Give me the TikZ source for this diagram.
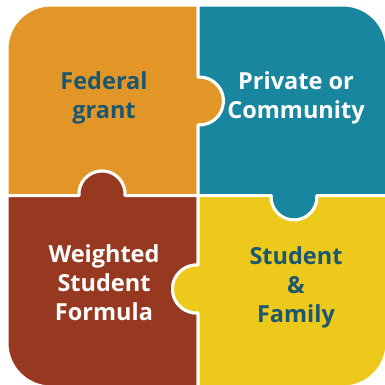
\documentclass[tikz,border=0pt]{standalone}
\usepackage{fontspec}
\setmainfont{Open Sans}
\definecolor{cOrange}{RGB}{226,150,40}
\definecolor{cTeal}{RGB}{24,134,158}
\definecolor{cBrown}{RGB}{151,56,32}
\definecolor{cYellow}{RGB}{236,201,27}
\definecolor{cText}{RGB}{27,88,112}
\tikzset{
  piece/.style={fill=#1, draw=white, line width=3bp, line join=round},
  lbl/.style={align=center, anchor=base, inner sep=0pt, font=\fontsize{23.5bp}{29bp}\selectfont\bfseries, text=#1}
}
\begin{document}
\begin{tikzpicture}[x=1bp,y=-1bp]
\useasboundingbox (0,0) rectangle (385,385);
\clip (0,0) rectangle (385,385);
% top-left
\path[piece=cOrange] (7,49) arc[start angle=180,end angle=270,radius=44] -- (198,5) -- (198,77.05)
  arc[start angle=-93.6,end angle=93.6,radius=24] -- (198,195.5) -- (124.95,195.5)
  arc[start angle=3.7,end angle=-183.7,radius=23] -- (7,195.5) -- cycle;
% top-right
\path[piece=cTeal] (198,5) -- (343,5) arc[start angle=270,end angle=360,radius=44] -- (387,195.5) -- (316.95,195.5)
  arc[start angle=-3.7,end angle=183.7,radius=23] -- (198,195.5) -- (198,124.95)
  arc[start angle=93.6,end angle=-93.6,radius=24] -- cycle;
% bottom-left
\path[piece=cBrown] (7,195.5) -- (79.05,195.5)
  arc[start angle=176.3,end angle=363.7,radius=23] -- (198,195.5) -- (198,265.05)
  arc[start angle=-86.4,end angle=-273.6,radius=24] -- (198,387) -- (51,387)
  arc[start angle=90,end angle=180,radius=44] -- cycle;
% bottom-right
\path[piece=cYellow] (198,195.5) -- (271.05,195.5)
  arc[start angle=183.7,end angle=-3.7,radius=23] -- (387,195.5) -- (387,343)
  arc[start angle=0,end angle=90,radius=44] -- (198,387) -- (198,312.95)
  arc[start angle=86.4,end angle=273.6,radius=24] -- cycle;
\node[lbl=cText] (fed) at (104,118) {Federal\\grant};
\node[lbl=white] (priv) at (296,118) {Private or\\Community};
\node[lbl=white] (wsf) at (104,320) {Weighted\\Student\\Formula};
\node[lbl=cText] (sf) at (296,322) {Student\\\&\\Family};
\end{tikzpicture}
\end{document}
